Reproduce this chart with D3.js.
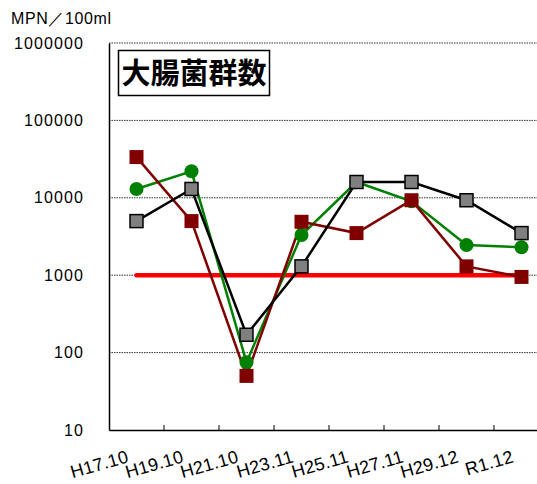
<!DOCTYPE html>
<html><head><meta charset="utf-8">
<script src="https://cdn.jsdelivr.net/npm/d3@7"></script>
<style>body{margin:0;background:#fff}svg{display:block}</style>
</head><body>
<svg id="c" width="537" height="484"></svg>
<script>
const categories = ["H17.10","H19.10","H21.10","H23.11","H25.11","H27.11","H29.12","R1.12"];
const seriesGray = [5000, 13000, 170, 1300, 16000, 16000, 9300, 3500];
const seriesGreen = [13000, 22000, 75, 3300, 16000, 9000, 2450, 2300];
const seriesRed = [33600, 5000, 50, 4900, 3500, 9300, 1300, 950];
const standard = 1000;
const yTicks = [10, 100, 1000, 10000, 100000, 1000000];

const FONT = "'Liberation Sans', Arial, sans-serif";
const svg = d3.select("#c");
const L = 109, T = 43, B = 430, R = 549;
const x = d3.scaleBand().domain(categories).range([L, R]);
const y = d3.scaleLog().domain([10, 1000000]).range([B, T]);
const cx = d => x(d) + x.bandwidth()/2;

// gridlines
svg.append("g").selectAll("line").data(yTicks.filter(v=>v>10)).join("line")
  .attr("x1", L).attr("x2", 537).attr("y1", d=>y(d)).attr("y2", d=>y(d))
  .attr("stroke", "#333").attr("stroke-width", 1).attr("stroke-dasharray", "1.5,1");

// y axis
const ya = svg.append("g").attr("transform", `translate(${L},0)`)
  .call(d3.axisLeft(y).tickValues(yTicks).tickFormat(d3.format("d")).tickSize(0).tickPadding(25));
ya.select(".domain").attr("stroke", "#000").attr("stroke-width", 1.5);
ya.selectAll("text").attr("fill", "#000")
  .style("font-family", FONT).style("font-size", "16px").style("letter-spacing", "1.1px");

// x axis
const xa = svg.append("g").attr("transform", `translate(0,${B})`)
  .call(d3.axisBottom(x).tickSize(0).tickFormat(""));
xa.select(".domain").attr("stroke", "#000").attr("stroke-width", 1.5);
svg.append("g").selectAll("line").data(categories.slice(1)).join("line")
  .attr("x1", d=>x(d)).attr("x2", d=>x(d)).attr("y1", B).attr("y2", B-5)
  .attr("stroke", "#000").attr("stroke-width", 1);
svg.append("g").selectAll("text").data(categories).join("text")
  .attr("transform", d=>`translate(${cx(d)-7},${B+32}) rotate(-16)`)
  .attr("text-anchor", "end")
  .style("font-family", FONT).style("font-size", "18px").style("letter-spacing", "0.2px")
  .text(d=>d);

// unit label
svg.append("text").attr("x", 11).attr("y", 24)
  .style("font-family", FONT).style("font-size", "16px").style("letter-spacing", "0.6px")
  .text("MPN／100ml");

// title box
svg.append("rect").attr("x", 118.5).attr("y", 50.5).attr("width", 151).attr("height", 45)
  .attr("fill", "#fff").attr("stroke", "#000").attr("stroke-width", 1.5);
svg.append("text").attr("x", 194).attr("y", 84).attr("text-anchor", "middle")
  .style("font-family", "'Noto Sans CJK JP'").style("font-size", "29px").style("font-weight", "bold")
  .text("大腸菌群数");

const line = d3.line().x((d,i)=>cx(categories[i])).y(d=>y(d));

// standard line
svg.append("line").attr("x1", cx(categories[0])).attr("x2", cx(categories[7]))
  .attr("y1", y(standard)).attr("y2", y(standard))
  .attr("stroke", "#ff0000").attr("stroke-width", 4.5).attr("stroke-linecap", "round");

// series lines
svg.append("path").datum(seriesGreen).attr("d", line).attr("fill", "none").attr("stroke", "#008000").attr("stroke-width", 2.5);
svg.append("path").datum(seriesRed).attr("d", line).attr("fill", "none").attr("stroke", "#800000").attr("stroke-width", 2.5);
svg.append("path").datum(seriesGray).attr("d", line).attr("fill", "none").attr("stroke", "#000").attr("stroke-width", 2.5);

// markers
svg.append("g").selectAll("circle").data(seriesGreen).join("circle")
  .attr("cx", (d,i)=>cx(categories[i])).attr("cy", d=>y(d)).attr("r", 7).attr("fill", "#008000");
svg.append("g").selectAll("rect").data(seriesRed).join("rect")
  .attr("x", (d,i)=>cx(categories[i])-7).attr("y", d=>y(d)-7).attr("width", 14).attr("height", 14).attr("fill", "#800000");
svg.append("g").selectAll("rect").data(seriesGray).join("rect")
  .attr("x", (d,i)=>cx(categories[i])-6.5).attr("y", d=>y(d)-6.5).attr("width", 13).attr("height", 13)
  .attr("fill", "#808080").attr("stroke", "#000").attr("stroke-width", 1.5);
</script>
</body></html>
